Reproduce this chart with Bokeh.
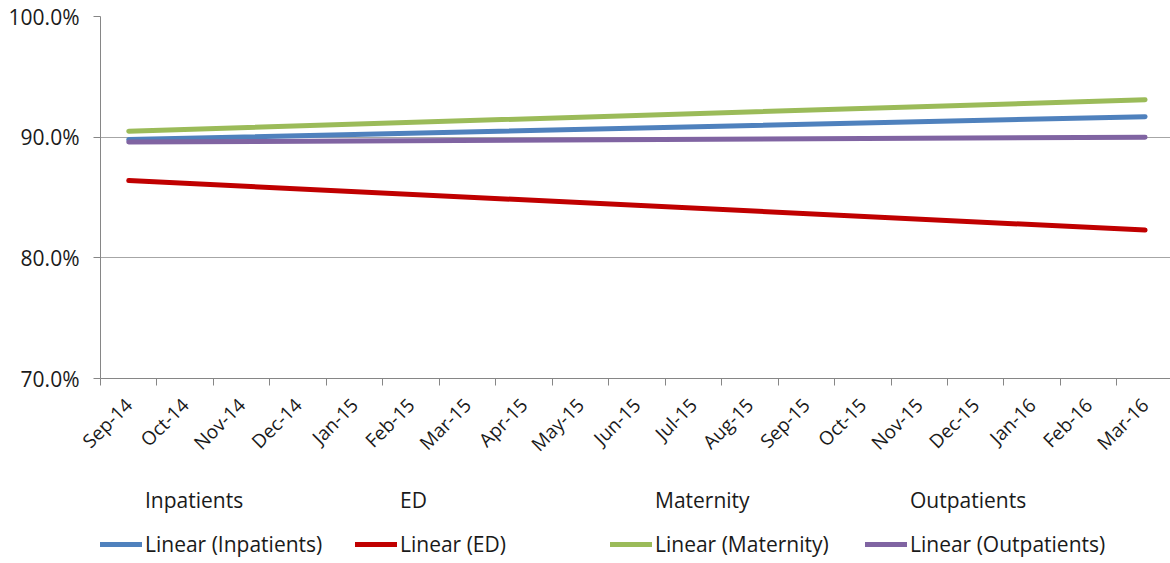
import math
from bokeh.plotting import figure
from bokeh.layouts import column
from bokeh.models import (Range1d, FixedTicker, NumeralTickFormatter, Legend,
                          LegendItem, ColumnDataSource)
from bokeh.embed import file_html
from bokeh.resources import INLINE

# Month categories on the x axis
months = ["Sep-14", "Oct-14", "Nov-14", "Dec-14", "Jan-15", "Feb-15", "Mar-15",
          "Apr-15", "May-15", "Jun-15", "Jul-15", "Aug-15", "Sep-15", "Oct-15",
          "Nov-15", "Dec-15", "Jan-16", "Feb-16", "Mar-16"]

# Service lines and their linear trend values (percent) at first and last month
series = ["Inpatients", "ED", "Maternity", "Outpatients"]
trend_first = [89.8, 86.4, 90.5, 89.6]
trend_last = [91.7, 82.3, 93.1, 90.0]
colors = ["#4F81BD", "#C00000", "#9BBB59", "#8064A2"]

y_ticks = [0.70, 0.80, 0.90, 1.00]

FONT = "Open Sans"
TEXT = "#1a1a1a"

# category centres sit half a step from the category boundaries
pos = {m: i + 0.5 for i, m in enumerate(months)}

p = figure(width=1170, height=473, output_backend="svg", toolbar_location=None,
           x_range=Range1d(0, 18.95), y_range=Range1d(0.70, 1.00),
           min_border_left=100, min_border_right=0, min_border_top=16,
           min_border_bottom=95)
p.outline_line_color = None
p.background_fill_color = "white"
p.border_fill_color = "white"

# y axis
p.yaxis.ticker = FixedTicker(ticks=y_ticks, minor_ticks=[])
p.yaxis.formatter = NumeralTickFormatter(format="0.0%")
p.yaxis.axis_line_color = "#868686"
p.yaxis.major_tick_line_color = "#868686"
p.yaxis.major_tick_out = 7
p.yaxis.major_tick_in = 0
p.yaxis.minor_tick_line_color = None
p.yaxis.major_label_text_font = FONT
p.yaxis.major_label_text_font_size = "21px"
p.yaxis.major_label_text_color = TEXT
p.yaxis.major_label_standoff = 14

# x axis: labels at category centres, tick marks at category boundaries
p.xaxis.ticker = FixedTicker(ticks=[pos[m] for m in months],
                             minor_ticks=list(range(len(months))))
p.xaxis.major_label_overrides = {pos[m]: m for m in months}
p.xaxis.major_tick_out = 0
p.xaxis.major_tick_in = 0
p.xaxis.minor_tick_out = 7
p.xaxis.minor_tick_in = 0
p.xaxis.minor_tick_line_color = "#868686"
p.xaxis.axis_line_color = "#868686"
p.xaxis.major_label_orientation = math.pi / 4
p.xaxis.major_label_text_font = FONT
p.xaxis.major_label_text_font_size = "19px"
p.xaxis.major_label_text_color = TEXT
p.xaxis.major_label_standoff = 16

p.xgrid.grid_line_color = None
p.ygrid.ticker = FixedTicker(ticks=y_ticks)
p.ygrid.grid_line_color = "#a6a6a6"
p.ygrid.grid_line_width = 1

for name, a, b, c in zip(series, trend_first, trend_last, colors):
    src = ColumnDataSource(dict(x=[pos[months[0]], pos[months[-1]]],
                                y=[a / 100, b / 100]))
    p.line("x", "y", source=src, line_color=c, line_width=5,
           line_cap="round")

# legend strip under the chart
leg = figure(width=1170, height=90, output_backend="svg", toolbar_location=None,
             x_range=Range1d(0, 1), y_range=Range1d(0, 1),
             x_axis_type=None, y_axis_type=None,
             min_border_left=0, min_border_right=0, min_border_top=0,
             min_border_bottom=0)
leg.outline_line_color = None
leg.xgrid.grid_line_color = None
leg.ygrid.grid_line_color = None

name_items = []
trend_items = []
for name, c in zip(series, colors):
    # single-point proxies: nothing is drawn, only the legend swatch
    raw = leg.line(x=[0], y=[0], line_alpha=0, line_width=5)
    fit = leg.line(x=[0], y=[0], line_color=c, line_width=5, line_cap="round")
    name_items.append(LegendItem(label=name, renderers=[raw]))
    trend_items.append(LegendItem(label=f"Linear ({name})", renderers=[fit]))


def make_legend(items, loc):
    return Legend(items=items, orientation="horizontal", location=loc,
                  border_line_color=None, background_fill_alpha=0,
                  label_text_font=FONT, label_text_font_size="21px",
                  label_text_color=TEXT, glyph_width=42, glyph_height=20,
                  label_standoff=3, label_width=205, spacing=5,
                  padding=0, margin=0, label_height=20)


leg.add_layout(make_legend(name_items, (0, 49)))
leg.add_layout(make_legend(trend_items, (0, 5)))

layout = column(p, leg, spacing=0)
open("out.html", "w").write(file_html(layout, INLINE))
